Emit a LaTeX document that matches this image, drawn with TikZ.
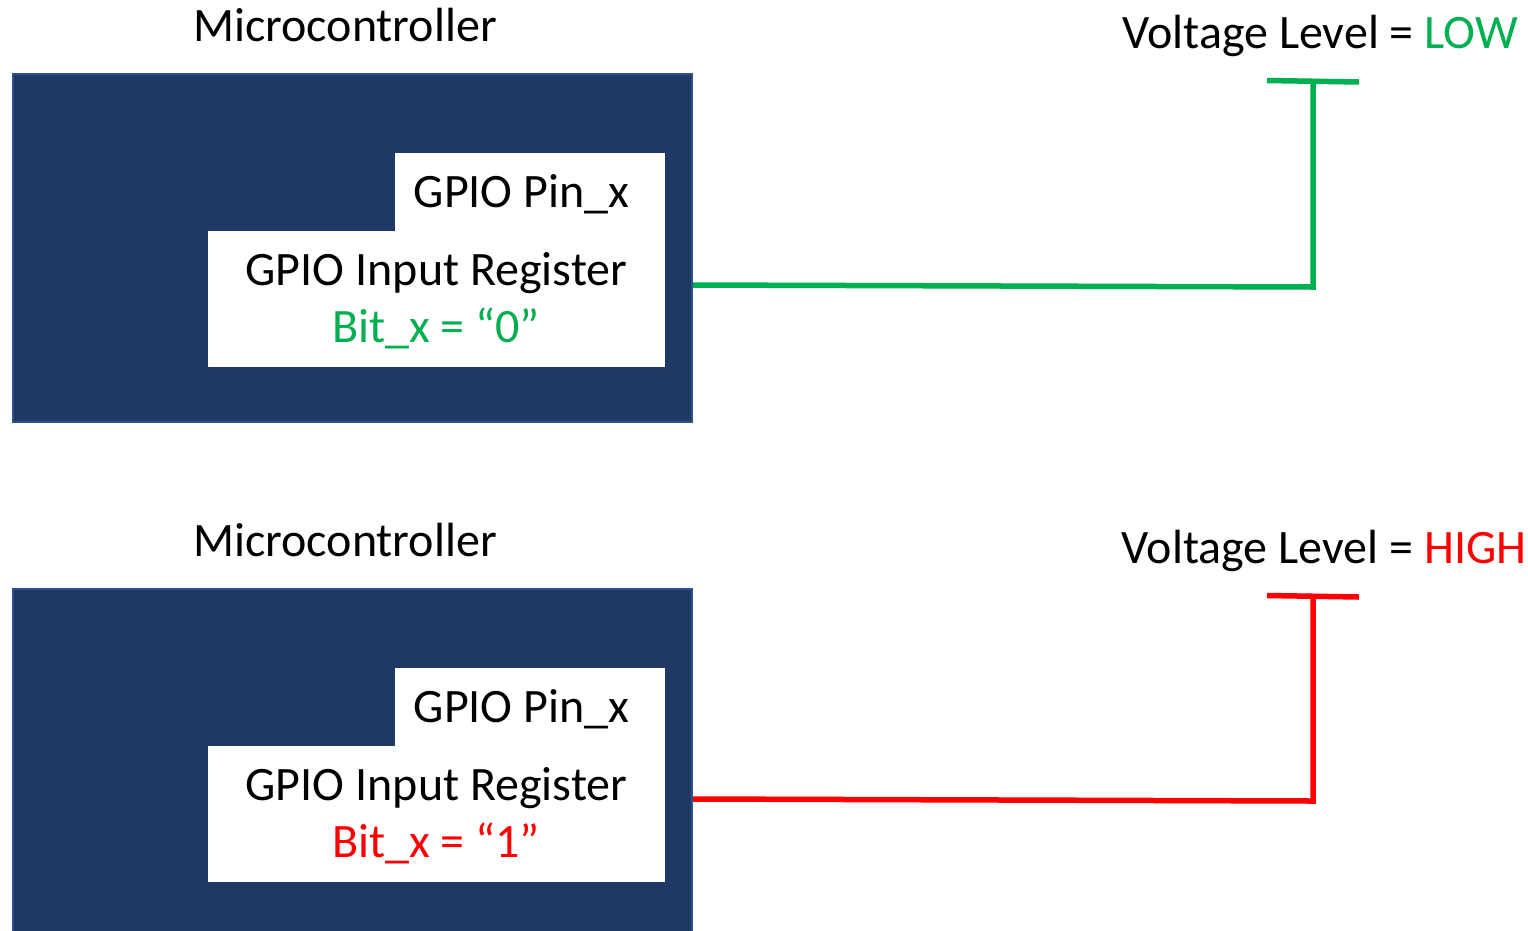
\documentclass[tikz,border=0pt]{standalone}
\usepackage{fontspec}
\setmainfont{Carlito}
\definecolor{navy}{HTML}{203864}
\definecolor{navyedge}{HTML}{2F528F}
\definecolor{lowgreen}{HTML}{00B050}
\definecolor{highred}{HTML}{FF0000}
\begin{document}
\begin{tikzpicture}[x=1pt,y=-1pt,
  mcu/.style={draw=navyedge,line width=2pt,fill=navy,rectangle,minimum width=679pt,minimum height=348pt,inner sep=0pt,anchor=north west},
  whitebox/.style={fill=white,rectangle,inner sep=0pt,anchor=north west},
  lbl/.style={anchor=base,inner sep=0pt,font=\fontsize{48}{57}\selectfont},
  wire/.style={line width=5.5pt,line cap=butt,line join=miter}
]
\clip (0,0) rectangle (1528,930);
\fill[white] (0,0) rectangle (1528,930);

% ---------- top panel ----------
\node[mcu] (mcuA) at (12,73) {};
\node[whitebox,minimum width=270pt,minimum height=79pt] (pinA) at (395,153) {};
\node[whitebox,minimum width=457pt,minimum height=136pt] (regA) at (208,231) {};
\node[lbl] (titleA) at (345,41) {Microcontroller};
\node[lbl] (pintxtA) at (521.5,207) {GPIO Pin\_x};
\node[lbl] (regtxtA) at (436.5,285) {GPIO Input Register};
\node[lbl,text=lowgreen] (bitA) at (436,342) {Bit\_x = “0”};
\node[lbl] (voltA) at (1320,48) {Voltage Level = \textcolor{lowgreen}{LOW}};
\coordinate (cornerA) at (1313,287);
\coordinate (topA) at (1313,82);
\coordinate (barLA) at (1267,80.5);
\coordinate (barRA) at (1359,82);
\draw[wire,lowgreen] (mcuA.east |- 0,285) -- (cornerA) -- (topA);
\draw[wire,lowgreen] (barLA) -- (barRA);

% ---------- bottom panel ----------
\node[mcu] (mcuB) at (12,588) {};
\node[whitebox,minimum width=270pt,minimum height=79pt] (pinB) at (395,668) {};
\node[whitebox,minimum width=457pt,minimum height=136pt] (regB) at (208,746) {};
\node[lbl] (titleB) at (345,556) {Microcontroller};
\node[lbl] (pintxtB) at (521.5,722) {GPIO Pin\_x};
\node[lbl] (regtxtB) at (436.5,800) {GPIO Input Register};
\node[lbl,text=highred] (bitB) at (436,857) {Bit\_x = “1”};
\node[lbl] (voltB) at (1324,563) {Voltage Level = \textcolor{highred}{HIGH}};
\coordinate (cornerB) at (1313,801);
\coordinate (topB) at (1313,597);
\coordinate (barLB) at (1267,595.5);
\coordinate (barRB) at (1359,597);
\draw[wire,highred] (mcuB.east |- 0,799) -- (cornerB) -- (topB);
\draw[wire,highred] (barLB) -- (barRB);
\end{tikzpicture}
\end{document}
